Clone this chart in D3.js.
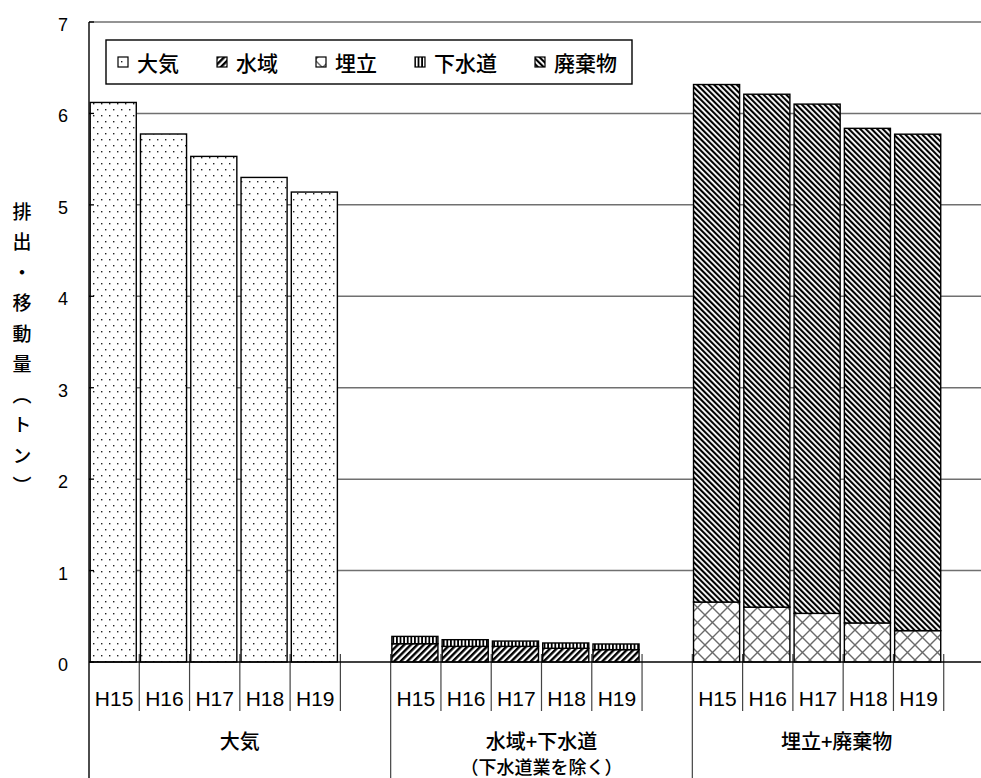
<!DOCTYPE html>
<html><head><meta charset="utf-8">
<script src="https://cdn.jsdelivr.net/npm/d3@7"></script>
<style>body{margin:0;background:#fff;overflow:hidden}</style>
</head><body>
<svg id="c" width="981" height="778"></svg>
<script>
// ---- data ----
const years = ["H15", "H16", "H17", "H18", "H19"];
const groupLabels = [["大気"], ["水域+下水道", "（下水道業を除く）"], ["埋立+廃棄物"]];
const seriesNames = ["大気", "水域", "埋立", "下水道", "廃棄物"];
const airValues = [6.12, 5.775, 5.53, 5.30, 5.14];
const waterValues = [0.20, 0.171, 0.171, 0.150, 0.135];
const sewerValues = [0.080, 0.073, 0.058, 0.058, 0.062];
const landfillValues = [0.656, 0.600, 0.532, 0.427, 0.343];
const wasteValues = [5.66, 5.61, 5.57, 5.41, 5.43];
const yTicks = [0, 1, 2, 3, 4, 5, 6, 7];
const yTitle = "排出・移動量（トン）";

// which series are stacked in each group (bottom to top)
const groupStacks = [["大気"], ["水域", "下水道"], ["埋立", "廃棄物"]];
const valuesBySeries = {"大気": airValues, "水域": waterValues, "下水道": sewerValues, "埋立": landfillValues, "廃棄物": wasteValues};
const patternId = {"大気": "pAir", "水域": "pWater", "埋立": "pLand", "下水道": "pSewer", "廃棄物": "pWaste"};

// ---- layout ----
const W = 981, H = 778;
const slotsPerGroup = 6;
const svg = d3.select("#c");
const x = d3.scaleLinear().domain([0, 18]).range([89, 994]);
const y = d3.scaleLinear().domain([0, 7]).range([662, 22]);
const slotW = x(1) - x(0);
const jpFont = "Noto Sans CJK JP, sans-serif";
const latFont = "Liberation Sans, Arial, sans-serif";

// ---- patterns ----
const defs = svg.append("defs");
function pat(id, w, h, rot) {
  const p = defs.append("pattern").attr("id", id).attr("patternUnits", "userSpaceOnUse")
    .attr("width", w).attr("height", h);
  if (rot) p.attr("patternTransform", `rotate(${rot})`);
  p.append("rect").attr("width", w).attr("height", h).attr("fill", "#fff");
  return p;
}
let p = pat("pAir", 8, 12);
p.append("rect").attr("x", 1).attr("y", 1).attr("width", 1.4).attr("height", 1.4).attr("fill", "#222");
p.append("rect").attr("x", 5).attr("y", 7).attr("width", 1.4).attr("height", 1.4).attr("fill", "#222");
p = pat("pWater", 4.6, 4.6, 45);
p.append("rect").attr("width", 2.4).attr("height", 4.6).attr("fill", "#000");
p = pat("pSewer", 3.6, 4);
p.append("rect").attr("width", 1.8).attr("height", 4).attr("fill", "#000");
p = pat("pWaste", 4, 4, -45);
p.append("rect").attr("width", 2.1).attr("height", 4).attr("fill", "#000");
p = pat("pLand", 15, 15);
p.append("path").attr("d", "M0,0L15,15M15,0L0,15M-1,14L1,16M14,-1L16,1M14,16L16,14M-1,1L1,-1")
  .attr("stroke", "#6a6a6a").attr("stroke-width", 1.4).attr("fill", "none");

// ---- gridlines ----
svg.append("g").selectAll("line").data(yTicks.filter(t => t > 0)).join("line")
  .attr("x1", x(0)).attr("x2", x(18)).attr("y1", d => y(d)).attr("y2", d => y(d))
  .attr("stroke", "#707070").attr("stroke-width", 1.5);

// ---- category tick lines ----
const tickSlots = [];
groupStacks.forEach((g, gi) => { for (let k = 1; k <= years.length; k++) tickSlots.push(gi * slotsPerGroup + k); });
svg.append("g").selectAll("line").data(tickSlots).join("line")
  .attr("x1", d => x(d)).attr("x2", d => x(d)).attr("y1", y(0) - 8).attr("y2", 711)
  .attr("stroke", "#444").attr("stroke-width", 1.2);
svg.append("g").selectAll("line").data(d3.range(0, 4).map(g => g * slotsPerGroup)).join("line")
  .attr("x1", d => x(d)).attr("x2", d => x(d)).attr("y1", d => d === 0 ? y(7) : y(0) - 8).attr("y2", H)
  .attr("stroke", d => d === 0 ? "#000" : "#444").attr("stroke-width", d => d === 0 ? 1.4 : 1.2);

// ---- bars ----
const rects = [];
groupStacks.forEach((keys, gi) => {
  years.forEach((yr, j) => {
    let base = 0;
    keys.forEach(k => {
      const v = valuesBySeries[k][j];
      rects.push({slot: gi * slotsPerGroup + j, y0: base, y1: base + v, key: k});
      base += v;
    });
  });
});
svg.append("g").selectAll("rect").data(rects).join("rect")
  .attr("x", d => x(d.slot) + 1.2)
  .attr("width", slotW - 4.2)
  .attr("y", d => y(d.y1))
  .attr("height", d => y(d.y0) - y(d.y1))
  .attr("fill", d => `url(#${patternId[d.key]})`)
  .attr("stroke", "#000").attr("stroke-width", 1.4);

// ---- axes ----
svg.append("line").attr("x1", x(0)).attr("x2", x(18)).attr("y1", y(0)).attr("y2", y(0))
  .attr("stroke", "#000").attr("stroke-width", 1.5);
svg.append("g").selectAll("line").data(yTicks).join("line")
  .attr("x1", x(0)).attr("x2", x(0) + 5).attr("y1", d => y(d)).attr("y2", d => y(d))
  .attr("stroke", "#000").attr("stroke-width", 1.3);
svg.append("g").selectAll("text").data(yTicks).join("text")
  .attr("x", 68).attr("y", d => y(d) + 3)
  .attr("text-anchor", "end").attr("dominant-baseline", "central")
  .attr("font-family", latFont).attr("font-size", 18)
  .text(d => d);

// year labels
const yearLabelData = [];
groupStacks.forEach((g, gi) => years.forEach((yr, j) => yearLabelData.push({slot: gi * slotsPerGroup + j, t: yr})));
svg.append("g").selectAll("text").data(yearLabelData).join("text")
  .attr("x", d => x(d.slot + 0.5)).attr("y", 706)
  .attr("text-anchor", "middle")
  .attr("font-family", latFont).attr("font-size", 21)
  .text(d => d.t);

// group labels
groupLabels.forEach((lines, gi) => {
  const cx = (x(gi * slotsPerGroup) + Math.min(x((gi + 1) * slotsPerGroup), W)) / 2;
  lines.forEach((line, li) => {
    svg.append("text").attr("x", cx).attr("y", 740 + li * 26)
      .attr("text-anchor", "middle").attr("dominant-baseline", "central")
      .attr("font-family", jpFont).attr("font-size", li === 0 ? 20 : 18).attr("font-weight", 500)
      .text(line);
  });
});

// y title
svg.append("text").attr("x", 22).attr("y", 202)
  .style("writing-mode", "vertical-rl")
  .attr("font-family", jpFont).attr("font-size", 19).attr("font-weight", 500)
  .attr("letter-spacing", 11.5)
  .text(yTitle);

// ---- legend ----
const lg = svg.append("g");
lg.append("rect").attr("x", 106).attr("y", 40).attr("width", 526).attr("height", 44)
  .attr("fill", "#fff").attr("stroke", "#000").attr("stroke-width", 1.4);
let lx = 118;
seriesNames.forEach(name => {
  lg.append("rect").attr("x", lx).attr("y", 57).attr("width", 10).attr("height", 10)
    .attr("fill", `url(#${patternId[name]})`).attr("stroke", "#000").attr("stroke-width", 1.2);
  const t = lg.append("text").attr("x", lx + 19).attr("y", 62)
    .attr("dominant-baseline", "central")
    .attr("font-family", jpFont).attr("font-size", 21).attr("font-weight", 500)
    .text(name);
  lx += 19 + t.node().getComputedTextLength() + 38;
});
</script>
</body></html>
